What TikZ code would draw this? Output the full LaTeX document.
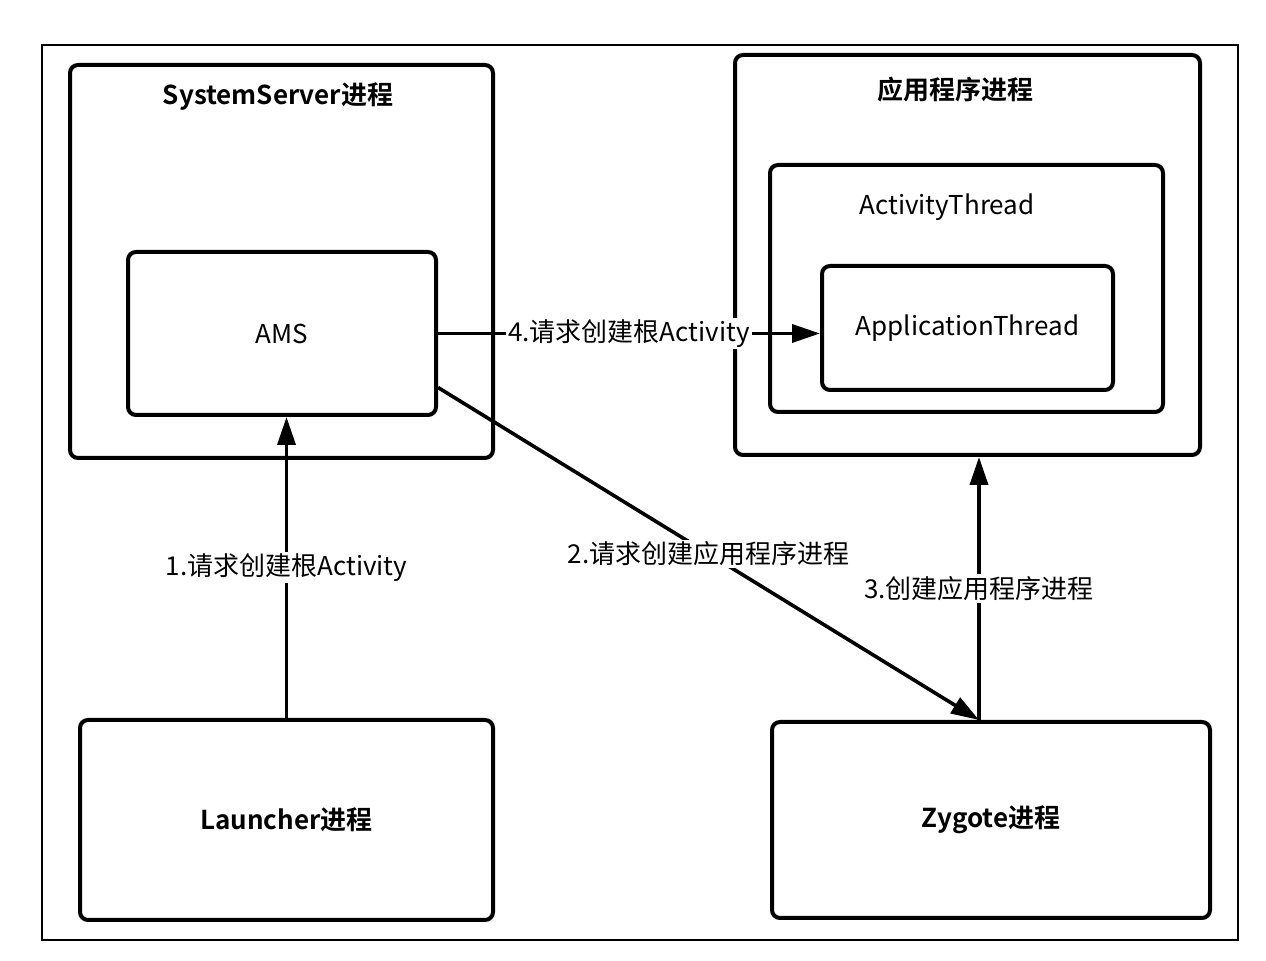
\documentclass[tikz,border=0pt]{standalone}
\usepackage{fontspec}
\setmainfont{Noto Sans CJK SC}[BoldFont={Noto Sans CJK SC Bold}]
\usetikzlibrary{calc,arrows.meta}
\begin{document}
\begin{tikzpicture}[x=0.5pt,y=-0.5pt,
  box/.style={draw=black,line width=2pt,rounded corners=4pt,minimum width=#1,inner sep=0pt},
  lbl/.style={font=\fontsize{13pt}{15pt}\selectfont},
  ttl/.style={font=\fontsize{13pt}{15pt}\selectfont\bfseries},
  conn/.style={line width=1.8pt,-{Triangle[length=14pt,width=9pt]}},
  tag/.style={lbl,fill=white,inner sep=1pt}]
\useasboundingbox (0,0) rectangle (1266,961);
\fill[white] (0,0) rectangle (1266,961);
\node[draw=black,line width=1pt,minimum width=598pt,minimum height=447.5pt,inner sep=0pt] (frame) at (640,492.5) {};
% SystemServer
\node[box=211.5pt,minimum height=196.5pt] (ss) at (281.5,261.5) {};
\node[ttl] (sst) at (278,97) {SystemServer进程};
\node[box=154pt,minimum height=81.5pt,lbl] (ams) at (282,333.5) {AMS};
% App process
\node[box=232.5pt,minimum height=200pt] (app) at (967.5,255) {};
\node[ttl] (appt) at (955,90) {应用程序进程};
\node[box=196.5pt,minimum height=123.5pt] (at) at (966.5,288.5) {};
\node[lbl] (att) at (947,207) {ActivityThread};
\node[box=145.5pt,minimum height=62pt,lbl] (apt) at (967.5,328) {ApplicationThread};
% Launcher, Zygote
\node[box=206.5pt,minimum height=100pt,ttl] (launcher) at (286.5,820) {Launcher进程};
\node[box=219pt,minimum height=98pt,ttl] (zygote) at (991,820) {Zygote进程};
% connectors
\coordinate (zt) at ($(zygote.north)+(-12,0)$);
\coordinate (amsr) at ($(ams.east)+(0,54)$);
\draw[conn] (launcher.north) -- (launcher.north |- ams.south)
  node[tag,midway] {1.请求创建根Activity};
\draw[conn] (amsr) -- (zt)
  node[tag,pos=0.5] {2.请求创建应用程序进程};
\draw[conn] (zt) -- (zt |- app.south)
  node[tag,midway] {3.创建应用程序进程};
\draw[conn] (ams.east) -- (ams.east -| apt.west)
  node[tag,midway] {4.请求创建根Activity};
\end{tikzpicture}
\end{document}
